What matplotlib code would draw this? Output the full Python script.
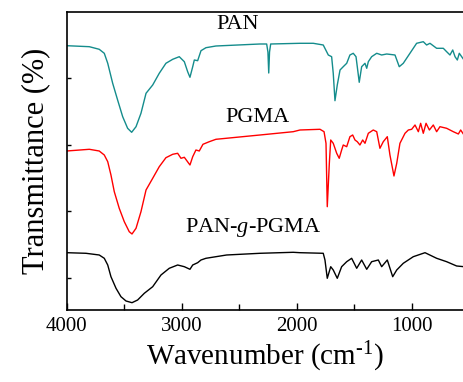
"""FTIR spectra of PAN, PGMA and PAN-g-PGMA (stacked, offset)."""

import numpy as np
import matplotlib
matplotlib.use("Agg")
import matplotlib.pyplot as plt
from matplotlib.ticker import MultipleLocator

plt.rcParams['font.family'] = ['Liberation Serif', 'DejaVu Serif']
plt.rcParams['mathtext.fontset'] = 'custom'
plt.rcParams['mathtext.rm'] = 'Liberation Serif'
plt.rcParams['mathtext.it'] = 'Liberation Serif:italic'

# --- data (wavenumber, offset transmittance a.u.) ---
pan_wn = [4000, 3803, 3717, 3673, 3643, 3600, 3557, 3513, 3470, 3435, 3397, 3354,
          3310, 3252, 3195, 3137, 3078, 3021, 2977, 2948, 2928, 2904, 2890, 2861,
          2832, 2789, 2702, 2319, 2261, 2250, 2243, 2236, 2226, 1971, 1856, 1769,
          1725, 1696, 1682, 1667, 1647, 1623, 1595, 1565, 1537, 1508, 1484, 1473,
          1456, 1435, 1406, 1391, 1377, 1348, 1304, 1261, 1217, 1145, 1108, 1073,
          1015, 957, 899, 870, 841, 783, 725, 696, 667, 643, 623, 603, 586, 545]
pan_t = [264.3, 263.3, 260.7, 256.7, 246.7, 226.7, 210, 193.3, 181.7, 177.7, 183.3, 196.7,
         216.7, 225, 236.7, 246.7, 250.7, 253.3, 248.3, 238.3, 232.7, 243.3, 250, 249.3,
         259.3, 262.3, 264, 266, 266, 258, 237, 258, 266, 266.7, 266.7, 265,
         255, 253.3, 236.7, 209.3, 225, 240, 243.3, 246.7, 255, 256.7, 253.3, 243.3,
         227.7, 243.3, 246.7, 241.7, 248.3, 253.3, 256.7, 255, 256, 255, 243.3, 246.7,
         256.7, 266.7, 268.3, 265, 266.7, 261.7, 261.7, 258.3, 255, 260, 253.3, 250, 256.7, 250]

pgma_wn = [4000, 3803, 3717, 3673, 3643, 3615, 3586, 3543, 3499, 3456, 3432, 3397,
           3354, 3310, 3252, 3195, 3137, 3078, 3035, 3006, 2977, 2928, 2904, 2876,
           2847, 2815, 2760, 2702, 2319, 2030, 1971, 1797, 1762, 1745, 1734, 1716,
           1704, 1682, 1652, 1630, 1609, 1595, 1565, 1537, 1513, 1493, 1473, 1450,
           1426, 1406, 1377, 1334, 1304, 1276, 1247, 1212, 1189, 1154, 1130, 1102,
           1058, 1029, 1000, 971, 942, 922, 899, 875, 846, 812, 783, 754, 696, 638,
           594, 574, 545]
pgma_t = [159, 160.7, 159, 155, 148.3, 135, 118.3, 101.7, 88.3, 78.3, 76, 81.7,
          98.3, 120, 131.7, 143.3, 152.3, 155.7, 156.7, 151.7, 152.7, 145, 153.3, 160,
          159, 165.7, 168.3, 170.7, 175, 178.3, 180, 180.7, 178.3, 166.7, 103.3, 146.7,
          170, 166.7, 156.7, 151.7, 160, 165, 163.3, 173.3, 175, 170, 168.3, 165,
          170, 166.7, 176.7, 180, 178.3, 161.7, 168.3, 173.3, 155, 134, 146.7, 166.7,
          176.7, 180, 180.7, 185, 178.3, 186.7, 176.7, 186.7, 180, 185, 178.3, 183.3, 181.7, 178.3,
          176, 180, 175]

graft_wn = [4000, 3832, 3717, 3673, 3643, 3615, 3571, 3528, 3484, 3432, 3383, 3325,
            3252, 3180, 3108, 3035, 2977, 2928, 2904, 2861, 2832, 2789, 2702, 2609,
            2319, 2030, 1971, 1769, 1754, 1734, 1704, 1682, 1647, 1609, 1565, 1522,
            1478, 1435, 1391, 1348, 1290, 1261, 1212, 1165, 1130, 1073, 986, 884,
            783, 696, 609, 545]
graft_t = [57.3, 56.7, 55, 51.7, 45, 33.3, 21.7, 13.3, 9, 7.3, 10, 16.7,
           23.3, 35, 41.7, 45, 43.3, 40.7, 45, 47.3, 50, 51.7, 53.3, 55,
           56.7, 57.7, 57.3, 56.7, 50, 31.7, 43.3, 40, 31.7, 43.3, 48.3, 51.7,
           41.7, 50, 40.7, 48.3, 50, 43.3, 50, 33.3, 40, 46.7, 53.3, 57.3,
           51.7, 48.3, 44, 43.3]

labels = ['PAN', 'PGMA', r'PAN-$\mathit{g}$-PGMA']

fig = plt.figure(figsize=(4.64, 3.82), dpi=100)
ax = fig.add_axes([0.1437, 0.1885, 0.8563, 0.7801])

ax.plot(pan_wn, pan_t, color='#148c8c', lw=1.0)
ax.plot(pgma_wn, pgma_t, color='#ff0000', lw=1.0)
ax.plot(graft_wn, graft_t, color='black', lw=1.0)

ax.text(2510, 285, labels[0], fontsize=16, ha='center', va='center')
ax.text(2344, 192, labels[1], fontsize=16, ha='center', va='center')
ax.text(2380, 82, labels[2], fontsize=16, ha='center', va='center')

ax.set_xlim(4000, 545)
ax.set_ylim(0, 298)
ax.xaxis.set_major_locator(MultipleLocator(1000))
ax.xaxis.set_minor_locator(MultipleLocator(500))
ax.set_yticks([32, 99, 165, 232])
ax.set_yticklabels([])
ax.tick_params(axis='x', which='major', direction='in', length=5, width=1,
               labelsize=15, pad=5)
ax.tick_params(axis='x', which='minor', direction='in', length=4, width=1)
ax.tick_params(axis='y', direction='in', length=3, width=1)
ax.spines['right'].set_visible(False)
for s in ['left', 'top', 'bottom']:
    ax.spines[s].set_linewidth(1.2)

ax.set_xlabel(r'Wavenumber (cm$^{\text{-1}}$)', fontsize=21, labelpad=3)
ax.set_ylabel('Transmittance (%)', fontsize=22, labelpad=8)

fig.savefig('out.png', dpi=100)
